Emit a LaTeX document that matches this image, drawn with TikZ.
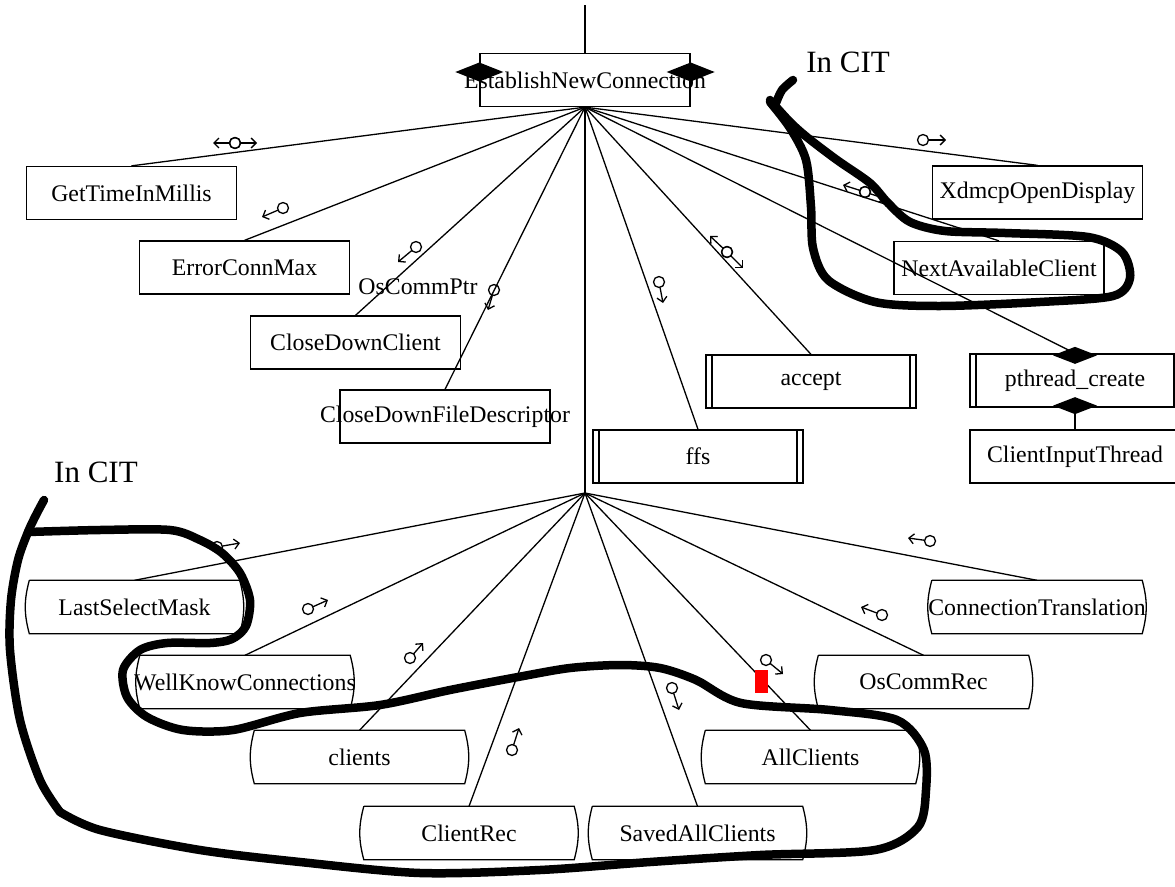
\documentclass[tikz,border=0pt]{standalone}
\usepackage{fontspec}
\setmainfont{Liberation Serif}
\usetikzlibrary{arrows.meta,calc}

% data couple: circle at #1, arrow from the circle towards #2
\newcommand\dcouple[2]{%
  \draw[link] (#1) circle[radius=5.5pt];
  \draw[link,-{Straight Barb[length=5pt,width=10pt]}] ($(#1)!5.5pt!(#2)$) -- (#2);}
% filled joint diamond centred at #1
\newcommand\joint[3]{%
  \fill (#1) ++(-#2,0) -- ++(#2,-#3) -- ++(#2,#3) -- ++(-#2,#3) -- cycle;}
% data store outline around node #1
\newcommand\storeshape[1]{%
  \draw[link] (#1.north west) -- (#1.north east) to[bend left=15] (#1.south east)
    -- (#1.south west) to[bend left=15] (#1.north west);}

\begin{document}
\begin{tikzpicture}[x=1pt,y=-1pt,
  link/.style={line width=1.3pt},
  lbl/.style={font=\fontsize{23.8}{28}\selectfont},
  module/.style={lbl, draw, link, minimum width=210pt, minimum height=53pt, inner sep=0pt},
  library/.style={module, path picture={
      \draw[link] ([xshift=6pt]path picture bounding box.north west) -- ([xshift=6pt]path picture bounding box.south west);
      \draw[link] ([xshift=-6pt]path picture bounding box.north east) -- ([xshift=-6pt]path picture bounding box.south east);}},
  store/.style={lbl, minimum width=210pt, minimum height=53pt, inner sep=0pt},
  cit/.style={line width=8.5pt, line cap=round, line join=round},
  note/.style={font=\fontsize{31}{36}\selectfont}]
\useasboundingbox (0,0) rectangle (1175,886);
\clip (0,0) rectangle (1175,886);

% ---- calling module and its direct subordinates
\node[module] (enc) at (585,80) {\makebox[0pt]{EstablishNewConnection}};
\node[module] (gtm) at (131.5,193) {\makebox[0pt]{GetTimeInMillis}};
\node[module] (ecm) at (244.5,267.5) {\makebox[0pt]{ErrorConnMax}};
\node[module] (cdc) at (355.5,342.5) {\makebox[0pt]{CloseDownClient}};
\node[module] (cdfd) at (445,416.5) {\makebox[0pt]{CloseDownFileDescriptor}};
\node[library] (ffs) at (698,456.5) {\makebox[0pt]{ffs}};
\node[library] (acc) at (811,381.5) {\makebox[0pt]{accept}};
\node[library] (pth) at (1075,380.5) {\makebox[0pt]{pthread\_create}};
\node[module] (cith) at (1075,456.5) {\makebox[0pt]{ClientInputThread}};
\node[module] (xod) at (1037.5,192.5) {\makebox[0pt]{XdmcpOpenDisplay}};
\node[module] (nac) at (999,268) {\makebox[0pt]{NextAvailableClient}};

% ---- data stores
\node[store] (lsm) at (134.5,607) {\makebox[0pt]{LastSelectMask}};
\node[store] (wkc) at (245,682) {\makebox[0pt]{WellKnowConnections}};
\node[store] (cli) at (359.5,757) {\makebox[0pt]{clients}};
\node[store] (crec) at (469,833) {\makebox[0pt]{ClientRec}};
\node[store] (sac) at (697.5,833) {\makebox[0pt]{SavedAllClients}};
\node[store] (allc) at (810.5,757) {\makebox[0pt]{AllClients}};
\node[store] (ocr) at (923.5,682) {\makebox[0pt]{OsCommRec}};
\node[store] (ctr) at (1037,607) {\makebox[0pt]{ConnectionTranslation}};
\foreach \s in {lsm,wkc,cli,crec,sac,allc,ocr,ctr} {\storeshape{\s}}

% ---- connectors
\coordinate (entry) at (585,5);
\coordinate (hubA) at (enc.south);
\coordinate (hubB) at (585,493);
\draw[link] (entry) -- (enc.north);
\foreach \m in {gtm,ecm,cdc,cdfd,ffs,acc,pth,xod,nac} {\draw[link] (hubA) -- (\m.north);}
\draw[link] (hubA) -- (hubB);
\foreach \m in {lsm,wkc,cli,crec,sac,allc,ocr,ctr} {\draw[link] (hubB) -- (\m.north);}
\draw[link] (pth.south) -- (cith.north);

% ---- joints
\joint{$(enc.west)+(0,-8)$}{24}{9.5}
\joint{$(enc.east)+(0,-8)$}{24}{9.5}
\joint{$(pth.north)+(0,2)$}{22}{8.5}
\joint{$(pth.south)+(0,-2)$}{22}{8.5}

% ---- data couples
\dcouple{235,143}{213,143}\dcouple{235,143}{257,143}
\dcouple{283,208}{262,217}
\dcouple{416,247}{398,262}
\node[lbl] (ocp) at (418,287) {OsCommPtr};
\dcouple{494,290}{488,310}
\dcouple{659,282}{663,303}
\dcouple{727,252}{710,236}\dcouple{727,252}{743,268}
\dcouple{865,192}{843,185}\dcouple{865,192}{886,199}
\dcouple{923,140}{946,140}

\dcouple{217,547}{240,543}
\dcouple{308,609}{328,600}
\dcouple{410,658}{423,643}
\dcouple{512,750}{519,728}
\dcouple{672,688}{679,710}
\dcouple{766,660}{783,674}
\dcouple{882,615}{861,607}
\dcouple{930,541}{908,538}

\fill[red] (755,670) rectangle (768,693);

% ---- CIT boundaries
\node[note] (citA) at (848,62) {In CIT};
\node[note] (citB) at (96,472) {In CIT};

\draw[cit] plot[smooth] coordinates {(793,80) (782,90) (776,103)};
\draw[cit] plot[smooth] coordinates {(770,100) (790,122) (808,138) (837,160) (870,183)
  (888,203) (910,222) (945,231) (1005,233) (1088,237) (1122,252) (1130,278) (1113,296)
  (1040,302) (940,306) (875,302) (828,280) (813,248) (811,207) (806,160) (790,128) (770,102)};

\draw[cit] plot[smooth] coordinates {(44,500) (36,515) (28,532) (18,560) (11,600) (10,650)
  (20,720) (40,780) (60,812)};
\draw[cit] plot[smooth] coordinates {(60,812) (100,830) (200,850) (300,862) (420,873)
  (540,870) (650,862) (760,855) (875,850) (918,827) (926,790) (924,750) (897,720) (830,710)
  (741,703) (696,680) (660,668) (620,665) (570,668) (518,677) (450,690) (380,705) (300,713)
  (233,730) (183,730) (147,717) (127,697) (123,670) (140,650) (167,643) (210,643) (232,639)
  (246,626) (250,600) (240,573) (222,553) (200,540) (170,530) (100,530) (28,532)};
\end{tikzpicture}
\end{document}
